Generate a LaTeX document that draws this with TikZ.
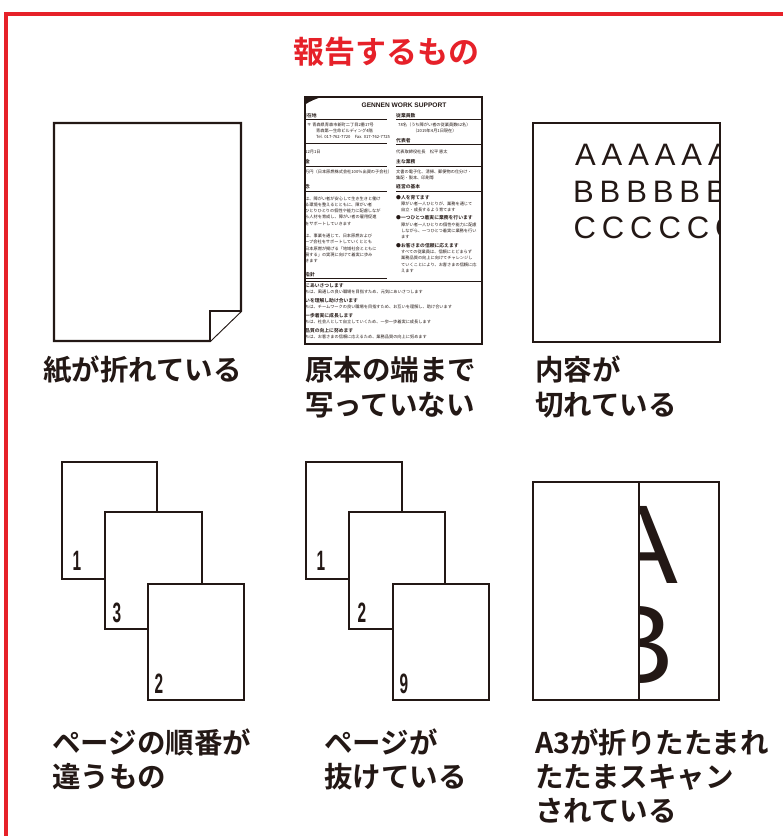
\documentclass[tikz,border=0pt]{standalone}
\usepackage{fontspec}
\setmainfont{Liberation Sans}
\newfontfamily\jp{Noto Sans CJK JP}
\newfontfamily\jpb{Noto Sans CJK JP Bold}
\newfontfamily\lat{Liberation Sans}
\newfontfamily\latb{Liberation Sans Bold}
\newfontfamily\abc{Liberation Sans}[LetterSpace=19]
\definecolor{framered}{RGB}{230,33,41}
\definecolor{ink}{RGB}{35,24,21}
\tikzset{
  pg/.style={draw=ink, line width=2.2pt, fill=white, line join=miter},
  lbl/.style={anchor=base west, inner sep=0pt, text=ink, font=\jpb\fontsize{28.5}{34}\selectfont},
  num/.style={anchor=base west, inner sep=0pt, text=ink, font=\latb\fontsize{28}{28}\selectfont},
  dh/.style={anchor=base west, inner sep=0pt, text=ink, font=\jpb\fontsize{4.8}{5}\selectfont},
  db/.style={anchor=base west, inner sep=0pt, text=ink, font=\jp\fontsize{4.2}{5}\selectfont},
  drule/.style={draw=ink, line width=1.2pt},
  abcrow/.style={anchor=base west, inner sep=0pt, text=ink, font=\abc\fontsize{31}{31}\selectfont},
  big/.style={inner sep=0pt, text=ink, text height=80pt, text depth=0pt, font=\lat\fontsize{112}{112}\selectfont},
}
\begin{document}
\begin{tikzpicture}[x=1pt,y=-1pt]
\useasboundingbox (0,0) rectangle (783,836);
% red frame
\draw[framered, line width=4pt, line join=miter] (5.5,900) -- (5.5,13.5) -- (900,13.5);
\node[anchor=base, inner sep=0pt, text=framered, font=\jpb\fontsize{31}{31}\selectfont] (title) at (386.5,63) {報告するもの};

% ---------- panel 1: folded corner
\draw[pg] (54,123) -- (241,123) -- (241,311) -- (210,341) -- (54,341) -- cycle;
\draw[pg] (241,311) -- (210,311) -- (210,341);
\node[lbl] (l1a) at (43,380) {紙が折れている};

% ---------- panel 2: document
\begin{scope}
\clip (305,97) rectangle (482,344);
\fill[ink] (305,96) -- (324,96) .. controls (317,98.5) and (310,101) .. (305,104.5) -- cycle;
\node[anchor=base, inner sep=0pt, text=ink, font=\latb\fontsize{6.6}{7}\selectfont] (dhead) at (404,107.5) {GENNEN WORK SUPPORT};
% headings
\foreach \t/\xx/\yy [count=\i] in {
  所在地/302/117, 金/305/163, 念/305/188.7, 指針/305/276,
  従業員数/396/117, 代表者/396/142, 主な業務/396/163, 経営の基本/396/188.7,
  ●人を育てます/396/199, ●一つひとつ着実に業務を行います/396/219.5, ●お客さまの信頼に応えます/396/247,
  にあいさつします/305/287, いを理解し助け合います/305/302, 一歩着実に成長します/305/317, 品質の向上に努めます/305/332}
  \node[dh] (dh\i) at (\xx,\yy) {\t};
% body lines
\foreach \t/\xx/\yy [count=\i] in {
  〒 青森県青森市新町二丁目2番17号/307/126,
  青森第一生命ビルディング4階/316/132,
  Tel. 017-762-7720　Fax. 017-762-7725/316/138.5,
  12月1日/305/153,
  万円（日本原燃株式会社100％出資の子会社）/305/173,
  は、障がい者が安心して生き生きと働け/305/200,
  る環境を整えるとともに、障がい者/305/206,
  ひとりひとりの個性や能力に配慮しなが/305/212,
  ら人材を育成し、障がい者の雇用促進/305/218.5,
  をサポートしていきます/305/225,
  は、事業を通じて、日本原燃および/305/237.5,
  ープ会社をサポートしていくととも/305/243.5,
  日本原燃が掲げる「地域社会とともに/305/250,
  展する」の実現に向けて着実に歩み/305/256,
  きます/305/262,
  ちは、風通しの良い職場を目指すため、元気にあいさつします/305/293.5,
  ちは、チームワークの良い職場を目指すため、お互いを理解し、助け合います/305/308.5,
  ちは、社会人として自立していくため、一歩一歩着実に成長します/305/323.5,
  ちは、お客さまの信頼に応えるため、業務品質の向上に努めます/305/338.5,
  78名（うち障がい者の従業員数62名）/398/126,
  （2019年4月1日現在）/413/132,
  代表取締役社長　松平 恵太/396/153,
  文書の電子化、清掃、郵便物の仕分け・/396/173,
  集配・製本、印刷等/396/179,
  障がい者一人ひとりが、業務を通じて/401/205,
  自立・成長するよう育てます/401/211,
  障がい者一人ひとりの個性や能力に配慮/401/226,
  しながら、一つひとつ着実に業務を行い/401/232,
  ます/401/238.5,
  すべての従業員は、信頼にとどまらず/401/253.5,
  業務品質の向上に向けてチャレンジし/401/259.5,
  ていくことにより、お客さまの信頼に応/401/266,
  えます/401/272}
  \node[db] (db\i) at (\xx,\yy) {\t};
% rules
\draw[drule] (305,119.5) -- (387,119.5);
\draw[drule] (305,143.3) -- (387,143.3);
\draw[drule] (305,166.7) -- (387,166.7);
\draw[drule] (305,191.7) -- (387,191.7);
\draw[drule] (305,278.3) -- (387,278.3);
\draw[drule] (396,119.5) -- (482,119.5);
\draw[drule] (396,144.3) -- (482,144.3);
\draw[drule] (396,166.5) -- (482,166.5);
\draw[drule] (396,191.5) -- (482,191.5);
\draw[ink, line width=0.8pt] (305,281.5) -- (482,281.5);
\end{scope}
\draw[draw=ink, line width=2.6pt] (305,97) rectangle (482,344);
\node[lbl] (l2a) at (305,380) {原本の端まで};
\node[lbl] (l2b) at (305,415) {写っていない};

% ---------- panel 3: cut content
\begin{scope}
\clip (533,123) rectangle (720,342);
\node[abcrow] (rowA) at (575,165) {AAAAAA};
\node[abcrow] (rowB) at (573,202) {BBBBBB};
\node[abcrow] (rowC) at (573.5,238) {CCCCCC};
\end{scope}
\draw[draw=ink, line width=2.2pt] (533,123) rectangle (720,342);
\node[lbl] (l3a) at (535,380) {内容が};
\node[lbl] (l3b) at (535,415) {切れている};

% ---------- panel 4: wrong order
\draw[pg] (62,462) rectangle (157,579);
\draw[pg] (105,512) rectangle (202,629);
\draw[pg] (148,584) rectangle (244,700);
\node[num] (n41) at (72.5,570) {\scalebox{0.55}[1]{1}};
\node[num] (n43) at (112.5,622) {\scalebox{0.55}[1]{3}};
\node[num] (n42) at (154.5,693) {\scalebox{0.55}[1]{2}};
\node[lbl] (l4a) at (52,753) {ページの順番が};
\node[lbl] (l4b) at (52,787) {違うもの};

% ---------- panel 5: missing page
\draw[pg] (306,462) rectangle (402,579);
\draw[pg] (349,512) rectangle (445,629);
\draw[pg] (393,584) rectangle (489,700);
\node[num] (n51) at (316.5,570) {\scalebox{0.55}[1]{1}};
\node[num] (n52) at (357.5,622) {\scalebox{0.55}[1]{2}};
\node[num] (n59) at (399.5,693) {\scalebox{0.55}[1]{9}};
\node[lbl] (l5a) at (324,753) {ページが};
\node[lbl] (l5b) at (324,787) {抜けている};

% ---------- panel 6: folded A3
\draw[draw=ink, line width=2.2pt, fill=white] (533,482) rectangle (719,700);
\begin{scope}
\clip (639,482) rectangle (719,700);
\node[big, anchor=base] (bigA) at (641,583) {A};
\node[big, anchor=base west] (bigB) at (599,683) {B};
\end{scope}
\draw[draw=ink, line width=2pt] (639,482) -- (639,700);
\draw[draw=ink, line width=2.2pt] (533,482) rectangle (719,700);
\node[lbl] (l6a) at (535,753) {A3が折りたたまれ};
\node[lbl] (l6b) at (535,787) {たたまスキャン};
\node[lbl] (l6c) at (535,821) {されている};
\end{tikzpicture}
\end{document}
